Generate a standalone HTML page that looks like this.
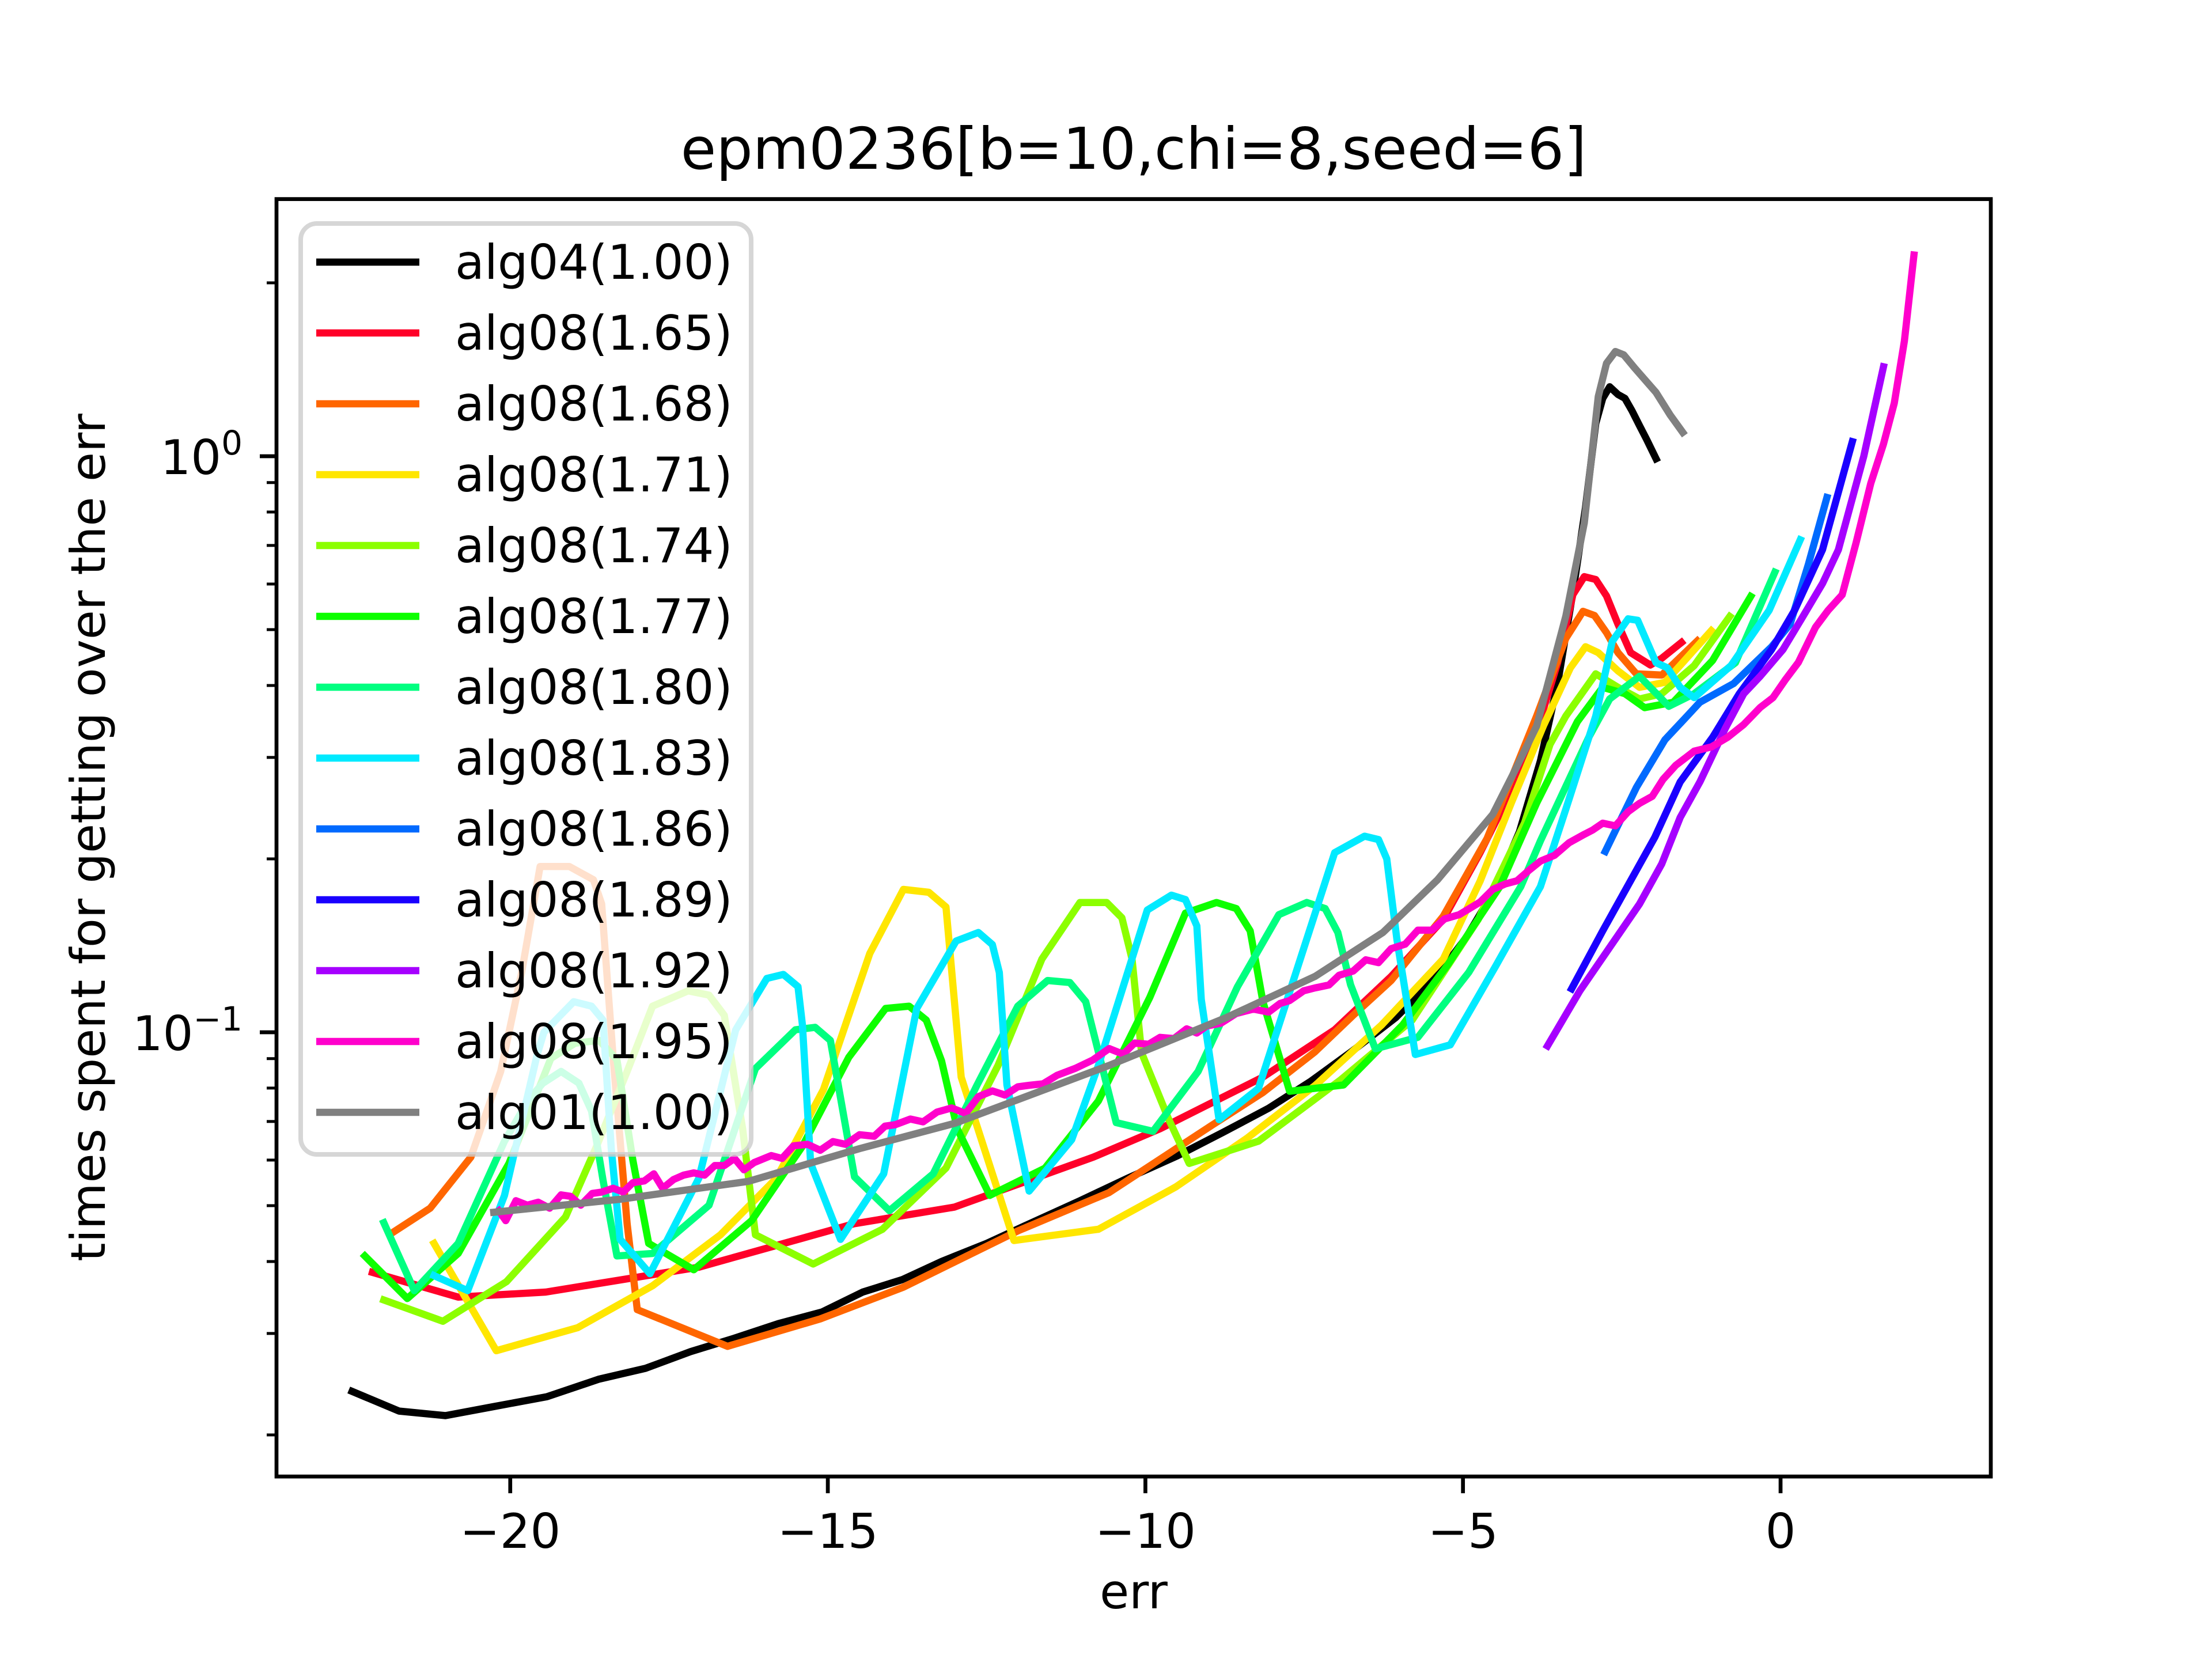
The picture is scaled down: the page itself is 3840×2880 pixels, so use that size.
<!DOCTYPE html>
<html><head><meta charset="utf-8"><style>html,body{margin:0;padding:0;background:#fff}svg{display:block}</style></head>
<body>
<svg id="chart" xmlns="http://www.w3.org/2000/svg" width="3840" height="2880" viewBox="0 0 3840 2880" font-family="'DejaVu Sans','Liberation Sans',sans-serif">
<rect x="0" y="0" width="3840" height="2880" fill="#fff"/>
<defs><clipPath id="axclip"><rect x="480" y="345.6" width="2976" height="2217.6"/></clipPath></defs>
<text x="1968" y="293" font-size="100" text-anchor="middle">epm0236[b=10,chi=8,seed=6]</text>
<g id="series" clip-path="url(#axclip)"></g>
<g id="axes"></g>
<g id="legend"></g>
<text x="1968" y="2792" font-size="83" text-anchor="middle">err</text>
<text transform="translate(182,1454) rotate(-90)" font-size="83" text-anchor="middle">times spent for getting over the err</text>
</svg>
<script>
const xTicks = [-20, -15, -10, -5, 0];
const xTickLabels = ["\u221220", "\u221215", "\u221210", "\u22125", "0"];
const yMajorTicks = [0.1, 1];
const yMajorExp = ["\u22121", "0"];
const yMinorTicks = [0.02,0.03,0.04,0.05,0.06,0.07,0.08,0.09,0.2,0.3,0.4,0.5,0.6,0.7,0.8,0.9,2];
const seriesNames = ["alg04(1.00)","alg08(1.65)","alg08(1.68)","alg08(1.71)","alg08(1.74)","alg08(1.77)","alg08(1.80)","alg08(1.83)","alg08(1.86)","alg08(1.89)","alg08(1.92)","alg08(1.95)","alg01(1.00)"];
const seriesColors = ["#000000","#ff0029","#ff6600","#ffe600","#8cff00","#0dff00","#00ff80","#00eaff","#006aff","#1a00ff","#a600ff","#ff00cc","#808080"];

const alg04X = [-22.49,-21.75,-21.02,-20.26,-19.42,-18.60,-17.87,-17.16,-16.49,-15.78,-15.09,-14.45,-13.83,-13.21,-12.50,-11.72,-11.03,-10.28,-9.50,-8.77,-8.06,-7.39,-6.73,-6.06,-5.44,-4.95,-4.51,-4.11,-3.78,-3.51,-3.27,-3.07,-2.91,-2.80,-2.69,-2.56,-2.45,-2.34,-2.22,-2.11,-1.96];
const alg04Y = [0.0238,0.022,0.0216,0.0224,0.0233,0.025,0.0261,0.0279,0.0294,0.0312,0.0327,0.0354,0.0372,0.04,0.043,0.0471,0.051,0.0558,0.061,0.0671,0.0738,0.0823,0.093,0.106,0.124,0.146,0.176,0.223,0.296,0.403,0.58,0.815,1.14,1.26,1.32,1.28,1.26,1.20,1.13,1.07,0.99];
const a165X = [-22.17,-20.82,-19.44,-17.03,-14.59,-13.01,-10.82,-9.77,-8.15,-7.02,-6.13,-5.31,-4.73,-3.95,-3.51,-3.27,-3.09,-2.91,-2.74,-2.56,-2.36,-2.05,-1.87,-1.56];
const a165Y = [0.0383,0.0347,0.0354,0.0391,0.0465,0.0497,0.0607,0.068,0.0836,0.101,0.125,0.157,0.205,0.304,0.438,0.575,0.618,0.611,0.572,0.511,0.456,0.434,0.446,0.475];
const a168X = [-21.88,-21.26,-20.62,-20.15,-19.82,-19.53,-19.07,-18.69,-18.56,-18.38,-18.16,-18.0,-16.58,-15.12,-13.81,-12.01,-10.57,-8.95,-8.15,-7.33,-6.73,-6.13,-5.31,-4.62,-3.84,-3.38,-3.11,-2.93,-2.74,-2.56,-2.27,-1.87,-1.31];
const a168Y = [0.0447,0.0495,0.0607,0.0855,0.127,0.194,0.194,0.184,0.167,0.0905,0.0465,0.033,0.0285,0.0318,0.0361,0.0452,0.0527,0.069,0.0786,0.0925,0.107,0.123,0.159,0.217,0.354,0.483,0.538,0.529,0.494,0.456,0.419,0.417,0.478];
const a171X = [-21.2,-20.22,-18.94,-17.76,-16.69,-15.81,-15.07,-14.34,-13.81,-13.41,-13.14,-12.9,-12.07,-10.74,-9.52,-8.39,-7.33,-6.28,-5.31,-4.73,-4.24,-3.73,-3.31,-3.07,-2.87,-2.56,-2.22,-1.82,-1.09];
const a171Y = [0.043,0.028,0.0307,0.0363,0.0445,0.0558,0.0795,0.137,0.177,0.175,0.165,0.0836,0.0435,0.0455,0.0539,0.0656,0.0808,0.103,0.134,0.183,0.25,0.341,0.429,0.467,0.456,0.424,0.397,0.405,0.498];
const a174X = [-21.99,-21.06,-20.06,-19.13,-18.64,-18.16,-17.76,-17.2,-16.87,-16.63,-16.34,-16.14,-15.23,-14.14,-13.14,-12.32,-11.63,-11.03,-10.61,-10.37,-10.21,-10.06,-9.64,-9.31,-8.22,-6.93,-5.8,-4.76,-4.03,-3.63,-3.38,-2.91,-2.56,-2.22,-1.87,-1.36,-0.8];
const a174Y = [0.0343,0.0315,0.0369,0.0478,0.0634,0.0855,0.111,0.118,0.116,0.107,0.0679,0.0445,0.0396,0.0455,0.0581,0.0876,0.134,0.168,0.168,0.158,0.134,0.0921,0.0709,0.0592,0.0647,0.0826,0.105,0.157,0.231,0.316,0.354,0.419,0.397,0.379,0.387,0.433,0.527];
const a177X = [-22.29,-21.62,-20.82,-20.02,-19.36,-18.98,-18.6,-18.32,-18.07,-17.82,-17.11,-16.2,-15.4,-14.67,-14.09,-13.72,-13.45,-13.21,-12.96,-12.45,-11.58,-10.74,-9.93,-9.37,-8.88,-8.57,-8.35,-8.15,-7.73,-6.88,-5.95,-5.24,-4.42,-3.84,-3.2,-2.8,-2.45,-2.14,-1.69,-1.07,-0.47];
const a177Y = [0.0409,0.0345,0.0413,0.0592,0.0901,0.0957,0.0968,0.0896,0.06,0.043,0.0387,0.0471,0.0634,0.0905,0.11,0.111,0.105,0.0892,0.0679,0.0521,0.0581,0.076,0.115,0.161,0.168,0.164,0.15,0.113,0.079,0.081,0.103,0.131,0.179,0.25,0.346,0.397,0.387,0.366,0.374,0.442,0.571];
const a180X = [-21.99,-21.51,-20.82,-20.09,-19.71,-19.49,-19.2,-18.92,-18.72,-18.54,-18.32,-17.76,-16.87,-16.14,-15.51,-15.2,-14.96,-14.58,-14.03,-13.34,-12.65,-12.01,-11.54,-11.19,-10.94,-10.46,-9.88,-9.17,-8.55,-7.9,-7.46,-7.17,-6.97,-6.77,-6.38,-5.71,-4.91,-4.09,-3.78,-3.02,-2.69,-2.22,-1.76,-1.36,-0.71,-0.09];
const a180Y = [0.0467,0.0356,0.043,0.0647,0.0764,0.0815,0.0855,0.0816,0.073,0.0554,0.0409,0.0413,0.0501,0.0865,0.101,0.102,0.0968,0.0561,0.049,0.0568,0.081,0.111,0.123,0.122,0.113,0.0697,0.0673,0.0855,0.12,0.16,0.168,0.164,0.149,0.121,0.0936,0.098,0.127,0.179,0.215,0.325,0.379,0.415,0.368,0.387,0.438,0.629];
const a183X = [-21.2,-20.67,-20.09,-19.58,-19.47,-19.0,-18.72,-18.54,-18.41,-18.27,-17.8,-17.03,-16.45,-15.96,-15.7,-15.47,-15.4,-15.27,-14.8,-14.12,-13.6,-12.98,-12.63,-12.41,-12.3,-12.18,-11.83,-11.16,-10.74,-9.97,-9.59,-9.37,-9.19,-9.12,-8.84,-8.22,-7.02,-6.55,-6.33,-6.2,-6.04,-5.75,-5.2,-4.49,-3.78,-3.38,-2.91,-2.65,-2.4,-2.25,-1.96,-1.78,-1.58,-1.36,-0.78,-0.18,0.31];
const a183Y = [0.0378,0.0356,0.0521,0.0911,0.1,0.113,0.111,0.105,0.0629,0.0437,0.0381,0.0558,0.101,0.124,0.126,0.12,0.103,0.0592,0.0437,0.0568,0.11,0.144,0.149,0.142,0.127,0.081,0.053,0.0651,0.0876,0.163,0.173,0.17,0.153,0.114,0.0705,0.0799,0.205,0.219,0.216,0.2,0.145,0.0915,0.0951,0.13,0.179,0.244,0.354,0.477,0.522,0.519,0.438,0.429,0.397,0.381,0.433,0.54,0.716];
const a186X = [-2.76,-2.27,-1.82,-1.47,-1.27,-0.74,-0.14,0.15,0.44,0.73];
const a186Y = [0.206,0.266,0.322,0.354,0.374,0.403,0.467,0.511,0.65,0.848];
const a189X = [-3.29,-2.8,-1.98,-1.58,-1.07,-0.65,-0.14,0.22,0.66,1.13];
const a189Y = [0.119,0.15,0.218,0.272,0.325,0.387,0.462,0.54,0.688,1.06];
const a192X = [-3.67,-3.16,-2.22,-1.87,-1.58,-1.27,-0.87,-0.58,-0.32,0.04,0.33,0.66,0.91,1.31,1.62];
const a192Y = [0.0947,0.118,0.167,0.196,0.236,0.272,0.337,0.387,0.415,0.462,0.522,0.601,0.688,1.0,1.43];
const a195X = [-20.18,-20.07,-19.91,-19.73,-19.56,-19.38,-19.2,-19.05,-18.89,-18.71,-18.56,-18.38,-18.22,-18.07,-17.89,-17.74,-17.6,-17.43,-17.27,-17.11,-16.94,-16.78,-16.63,-16.47,-16.32,-16.16,-15.89,-15.72,-15.54,-15.32,-15.12,-14.92,-14.72,-14.5,-14.27,-14.1,-13.94,-13.7,-13.5,-13.28,-13.05,-12.83,-12.63,-12.41,-12.21,-12.01,-11.83,-11.61,-11.39,-11.1,-10.83,-10.57,-10.35,-10.17,-9.95,-9.77,-9.55,-9.35,-9.19,-9.04,-8.81,-8.57,-8.3,-8.06,-7.88,-7.73,-7.51,-7.33,-7.11,-6.95,-6.73,-6.53,-6.33,-6.13,-5.91,-5.71,-5.49,-5.29,-5.06,-4.91,-4.73,-4.53,-4.33,-4.15,-3.95,-3.78,-3.56,-3.33,-3.09,-2.96,-2.8,-2.6,-2.4,-2.22,-2.02,-1.85,-1.65,-1.36,-1.09,-0.83,-0.58,-0.32,-0.12,0.08,0.28,0.55,0.75,0.97,1.19,1.42,1.62,1.79,1.95,2.1];
const a195Y = [0.049,0.0471,0.051,0.0501,0.0507,0.0495,0.0522,0.0519,0.0501,0.0525,0.0528,0.0536,0.0528,0.0548,0.0552,0.0568,0.0536,0.0555,0.0565,0.057,0.0565,0.0587,0.0587,0.0604,0.0577,0.0594,0.0611,0.0604,0.0635,0.0639,0.0624,0.0646,0.0639,0.0664,0.066,0.0687,0.0691,0.0707,0.0699,0.0727,0.0739,0.0723,0.0773,0.0791,0.0778,0.0804,0.0809,0.0814,0.0842,0.0866,0.0895,0.0937,0.0916,0.0958,0.0953,0.098,0.0975,0.1014,0.0997,0.1025,0.1037,0.1078,0.1097,0.1084,0.1122,0.1135,0.118,0.1194,0.1208,0.1256,0.1277,0.1336,0.1321,0.1397,0.1422,0.1504,0.1504,0.1573,0.16,0.1637,0.1683,0.177,0.181,0.1832,0.1915,0.1982,0.2028,0.2133,0.2206,0.2244,0.2307,0.2282,0.2415,0.2497,0.2568,0.2748,0.2907,0.3076,0.3128,0.3253,0.3422,0.3663,0.3809,0.41,0.4385,0.5048,0.5402,0.5747,0.708,0.897,1.05,1.236,1.585,2.235];
const alg01X = [-20.26,-18.27,-16.25,-14.5,-13.0,-10.57,-8.73,-7.33,-6.26,-5.4,-4.53,-4.18,-3.84,-3.38,-3.09,-2.87,-2.74,-2.60,-2.47,-2.29,-1.96,-1.74,-1.54];
const alg01Y = [0.0487,0.0513,0.0551,0.0628,0.0695,0.0876,0.106,0.125,0.149,0.184,0.239,0.285,0.34,0.528,0.766,1.27,1.45,1.52,1.50,1.42,1.29,1.18,1.10];

const seriesX = [alg04X,a165X,a168X,a171X,a174X,a177X,a180X,a183X,a186X,a189X,a192X,a195X,alg01X];
const seriesY = [alg04Y,a165Y,a168Y,a171Y,a174Y,a177Y,a180Y,a183Y,a186Y,a189Y,a192Y,a195Y,alg01Y];

const NS = "http://www.w3.org/2000/svg";
const AX = {l:480, r:3456, t:345.6, b:2563.2, xmin:-23.68, xmax:3.31};
function sx(x){ return AX.l + (x - AX.xmin) / (AX.xmax - AX.xmin) * (AX.r - AX.l); }
function sy(y){ return 792 - 1000 * Math.log10(y); }
function mk(tag, attrs, parent){ const e = document.createElementNS(NS, tag); for (const k in attrs) e.setAttribute(k, attrs[k]); parent.appendChild(e); return e; }

const gS = document.getElementById('series');
for (let i = 0; i < seriesX.length; i++) {
  const xs = seriesX[i], ys = seriesY[i];
  const n = Math.min(xs.length, ys.length);
  let d = "";
  for (let j = 0; j < n; j++) d += (j ? "L" : "M") + sx(xs[j]).toFixed(1) + "," + sy(ys[j]).toFixed(1);
  const p = mk('path', {d: d, fill: 'none', stroke: seriesColors[i], 'stroke-width': 12.5, 'stroke-linejoin': 'round', 'stroke-linecap': 'square'}, gS);
  
  
}

const gA = document.getElementById('axes');
const frame = mk('rect', {x: AX.l, y: AX.t, width: AX.r - AX.l, height: AX.b - AX.t, fill: 'none', stroke: '#000', 'stroke-width': 6.7}, gA);


for (let i = 0; i < xTicks.length; i++) {
  const x = sx(xTicks[i]);
  const t = mk('line', {x1: x, x2: x, y1: AX.b, y2: AX.b + 29, stroke: '#000', 'stroke-width': 6.7}, gA);
  
  
  const lb = mk('text', {x: x, y: 2687, 'font-size': 83, 'text-anchor': 'middle'}, gA);
  lb.textContent = xTickLabels[i];
  
  
}
for (let i = 0; i < yMajorTicks.length; i++) {
  const y = sy(yMajorTicks[i]);
  const t = mk('line', {x1: AX.l - 29, x2: AX.l, y1: y, y2: y, stroke: '#000', 'stroke-width': 6.7}, gA);
  
  
  const lb = mk('text', {x: 421, y: y + 31, 'font-size': 83, 'text-anchor': 'end'}, gA);
  
  
  const a = mk('tspan', {}, lb); a.textContent = "10";
  const b = mk('tspan', {'font-size': 58, dy: -34}, lb); b.textContent = yMajorExp[i];
}
for (let i = 0; i < yMinorTicks.length; i++) {
  const y = sy(yMinorTicks[i]);
  const t = mk('line', {x1: AX.l - 17, x2: AX.l, y1: y, y2: y, stroke: '#000', 'stroke-width': 5}, gA);
  
  
}

const gL = document.getElementById('legend');
const box = mk('rect', {x: 522, y: 388, width: 782, height: 1616, rx: 28, ry: 28, fill: 'rgba(255,255,255,0.8)', stroke: 'rgba(204,204,204,0.8)', 'stroke-width': 8}, gL);


for (let i = 0; i < seriesNames.length; i++) {
  const y = 455 + i * 123;
  const g = mk('g', {}, gL);
  
  
  mk('line', {x1: 549, x2: 728, y1: y, y2: y, stroke: seriesColors[i], 'stroke-width': 12.5}, g);
  const tx = mk('text', {x: 790, y: y + 29, 'font-size': 83}, g);
  tx.textContent = seriesNames[i];
}
</script>
</body></html>
